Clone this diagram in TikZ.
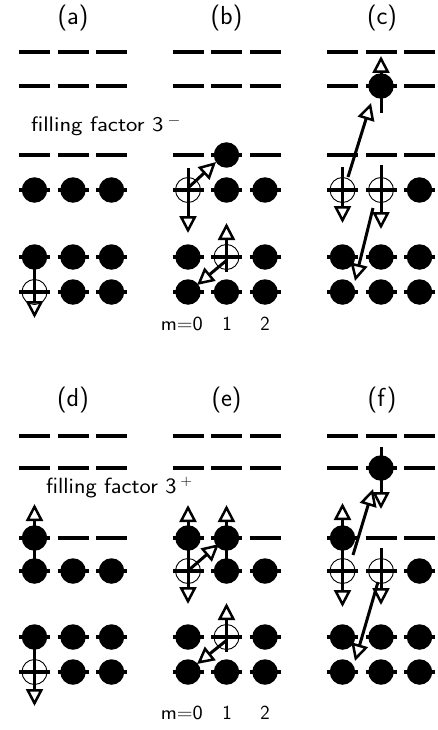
\documentclass[tikz,border=0pt]{standalone}
\usepackage{fontspec}
\usepackage{graphicx}
\usetikzlibrary{arrows.meta}
\tikzset{
  levelbar/.style={line width=4.5pt},
  elec/.style={circle, fill=black, inner sep=0pt, minimum size=25.5pt},
  hole/.style={circle, draw=black, line width=0.9pt, inner sep=0pt, minimum size=25pt},
  hop/.style={line width=3pt, -{Triangle[open, length=17pt, width=17pt, line width=2.5pt]}},
  lab/.style={font=\sffamily\fontsize{26}{26}\selectfont, inner sep=0pt},
  fill3/.style={font=\sffamily\fontsize{21}{21}\selectfont, inner sep=0pt, anchor=base west},
  mlab/.style={font=\sffamily\fontsize{20}{20}\selectfont, inner sep=0pt, anchor=base},
}
\begin{document}
\begin{tikzpicture}[x=1pt, y=-1pt]
\useasboundingbox (0,0) rectangle (437,730);

% Landau-level dashes: three panels across, two halves, three m-columns, six rows
\foreach \px in {34.5,188,342.5}{
  \foreach \c in {0,38.5,77}{
    \foreach \ry in {52,86,155,190,257,292,436,468,538,571,637,672}{
      \draw[levelbar] (\px+\c-15.5,\ry) -- (\px+\c+15.5,\ry);
    }
  }
}

% panel labels
\node[lab] (la) at (73,18) {(a)};
\node[lab] (lb) at (226.5,18) {(b)};
\node[lab] (lc) at (382,18) {(c)};
\node[lab] (ld) at (73,400) {(d)};
\node[lab] (le) at (226.5,400) {(e)};
\node[lab] (lf) at (382,400) {(f)};

% filling factor captions
\node[fill3] (fminus) at (31,132) {\scalebox{1.15}[1]{filling factor 3\,$^{-}$}};
\node[fill3, font=\sffamily\fontsize{22}{22}\selectfont] (fplus) at (46,493) {\scalebox{1.08}[1]{filling factor 3\,$^{+}$}};

% m labels
\node[mlab, anchor=base east] (m0a) at (203,330) {\scalebox{1.08}[1]{m=0}};
\node[mlab] (m1a) at (227,330) {1};
\node[mlab] (m2a) at (265,330) {2};
\node[mlab, anchor=base east] (m0b) at (203,719) {\scalebox{1.08}[1]{m=0}};
\node[mlab] (m1b) at (227,719) {1};
\node[mlab] (m2b) at (265,719) {2};

% ---------- (a) ----------
\foreach \n/\x/\y in {a1/34.5/190, a2/73/190, a3/111.5/190,
                     a4/34.5/257, a5/73/257, a6/111.5/257,
                     a7/73/292, a8/111.5/292}
  \node[elec] (\n) at (\x,\y) {};
\node[hole] (ah) at (34.5,292) {};
\coordinate (aend) at (34.5,318);
\draw[hop] (a4.center) -- (aend);

% ---------- (b) ----------
\foreach \n/\x/\y in {b1/226.5/155, b2/226.5/190, b3/265/190,
                     b4/188/257, b5/265/257,
                     b6/188/292, b7/226.5/292, b8/265/292}
  \node[elec] (\n) at (\x,\y) {};
\node[hole] (bh1) at (188,190) {};
\node[hole] (bh2) at (226.5,257) {};
\coordinate (bt1) at (188,168);   \coordinate (be1) at (188,233);
\coordinate (bs2) at (188,188);   \coordinate (be2) at (216,162);
\coordinate (bs3) at (226.5,272); \coordinate (be3) at (226.5,223);
\coordinate (bs4) at (227,260);   \coordinate (be4) at (197,285);
\draw[hop] (bt1) -- (be1);
\draw[hop] (bs2) -- (be2);
\draw[hop] (bs3) -- (be3);
\draw[hop] (bs4) -- (be4);

% ---------- (c) ----------
\foreach \n/\x/\y in {c1/381/86, c2/419.5/190,
                     c3/342.5/257, c4/381/257, c5/419.5/257,
                     c6/342.5/292, c7/381/292, c8/419.5/292}
  \node[elec] (\n) at (\x,\y) {};
\node[hole] (ch1) at (342.5,190) {};
\node[hole] (ch2) at (381,190) {};
\coordinate (cs1) at (381,113);   \coordinate (ce1) at (381,56);
\coordinate (cs2) at (348,177);   \coordinate (ce2) at (371,103);
\coordinate (cs3) at (342.5,167); \coordinate (ce3) at (342.5,223);
\coordinate (cs4) at (381,165);   \coordinate (ce4) at (381,229);
\coordinate (cs5) at (373,208);   \coordinate (ce5) at (355,281);
\draw[hop] (cs1) -- (ce1);
\draw[hop] (cs2) -- (ce2);
\draw[hop] (cs3) -- (ce3);
\draw[hop] (cs4) -- (ce4);
\draw[hop] (cs5) -- (ce5);

% ---------- (d) ----------
\foreach \n/\x/\y in {d1/34.5/538,
                     d2/34.5/571, d3/73/571, d4/111.5/571,
                     d5/34.5/637, d6/73/637, d7/111.5/637,
                     d8/73/672, d9/111.5/672}
  \node[elec] (\n) at (\x,\y) {};
\node[hole] (dh) at (34.5,672) {};
\coordinate (de1) at (34.5,504);
\coordinate (de2) at (34.5,706);
\draw[hop] (d2.center) -- (de1);
\draw[hop] (d5.center) -- (de2);

% ---------- (e) ----------
\foreach \n/\x/\y in {e1/188/538, e2/226.5/538,
                     e3/226.5/571, e4/265/571,
                     e5/188/637, e6/265/637,
                     e7/188/672, e8/226.5/672, e9/265/672}
  \node[elec] (\n) at (\x,\y) {};
\node[hole] (eh1) at (188,571) {};
\node[hole] (eh2) at (226.5,637) {};
\coordinate (ee1) at (188,505);
\coordinate (ee2) at (188,604);
\coordinate (ee3) at (226.5,505);
\coordinate (es4) at (190,569);   \coordinate (ee4) at (219,544);
\coordinate (es5) at (226.5,652); \coordinate (ee5) at (226.5,603);
\coordinate (es6) at (227,640);   \coordinate (ee6) at (197,664);
\draw[hop] (eh1.center) -- (ee1);
\draw[hop] (e1.center) -- (ee2);
\draw[hop] (e3.center) -- (ee3);
\draw[hop] (es4) -- (ee4);
\draw[hop] (es5) -- (ee5);
\draw[hop] (es6) -- (ee6);

% ---------- (f) ----------
\foreach \n/\x/\y in {f1/381/468, f2/342.5/538, f3/419.5/571,
                     f4/342.5/637, f5/381/637, f6/419.5/637,
                     f7/342.5/672, f8/381/672, f9/419.5/672}
  \node[elec] (\n) at (\x,\y) {};
\node[hole] (fh1) at (342.5,571) {};
\node[hole] (fh2) at (381,571) {};
\coordinate (fs1) at (381,447);   \coordinate (fe1) at (381,509);
\coordinate (fe2) at (342.5,503);
\coordinate (fe3) at (342.5,607);
\coordinate (fs4) at (381,548);   \coordinate (fe4) at (381,605);
\coordinate (fs5) at (353,555);   \coordinate (fe5) at (373,489);
\coordinate (fs6) at (378,582);   \coordinate (fe6) at (355,661);
\draw[hop] (fs1) -- (fe1);
\draw[hop] (fh1.center) -- (fe2);
\draw[hop] (f2.center) -- (fe3);
\draw[hop] (fs4) -- (fe4);
\draw[hop] (fs5) -- (fe5);
\draw[hop] (fs6) -- (fe6);
\end{tikzpicture}
\end{document}
